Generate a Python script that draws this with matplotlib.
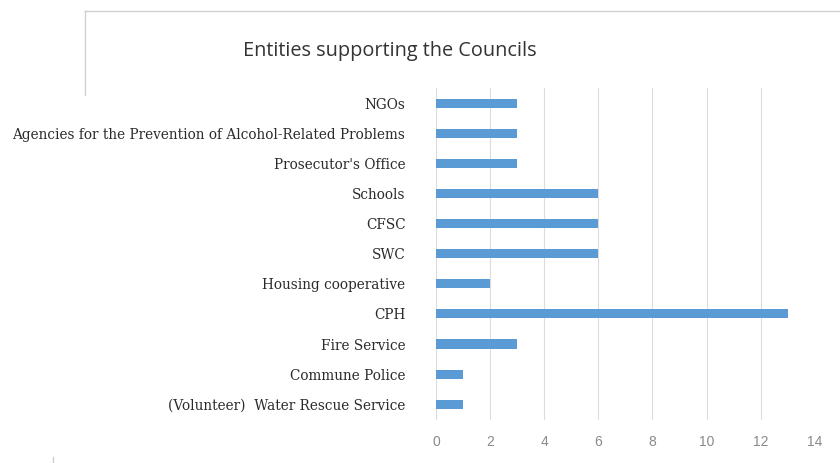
import matplotlib
matplotlib.use("Agg")
import matplotlib.pyplot as plt
from matplotlib.lines import Line2D

categories = ["NGOs",
              "Agencies for the Prevention of Alcohol-Related Problems",
              "Prosecutor's Office",
              "Schools",
              "CFSC",
              "SWC",
              "Housing cooperative",
              "CPH",
              "Fire Service",
              "Commune Police",
              "(Volunteer)  Water Rescue Service"]
values = [3, 3, 3, 6, 6, 6, 2, 13, 3, 1, 1]
xticks = [0, 2, 4, 6, 8, 10, 12, 14]

fig = plt.figure(figsize=(8.4, 4.63), dpi=100)
ax = fig.add_axes([0.519, 0.093, 0.451, 0.717])

ypos = list(range(len(categories)))[::-1]
ax.barh(ypos, values, height=0.3, color="#5B9BD5", zorder=3)
ax.set_xlim(0, 14)
ax.set_ylim(-0.53, 10.53)
ax.set_xticks(xticks)
ax.set_xticklabels([str(t) for t in xticks], family="Liberation Sans",
                   fontsize=10, color="#8a8a8a")
ax.set_yticks(ypos)
ax.set_yticklabels(categories, family="DejaVu Serif", fontsize=9.85, color="#2a2a2a")
ax.tick_params(axis="both", length=0)
ax.tick_params(axis="y", pad=22)
ax.tick_params(axis="x", pad=11)
ax.grid(axis="x", color="#dcdcdc", linewidth=0.8, zorder=0)
for s in ax.spines.values():
    s.set_visible(False)

fig.text(0.464, 0.89, "Entities supporting the Councils", ha="center", va="center",
         family="Open Sans", fontsize=14.3, color="#333333")

fig.add_artist(Line2D([0.101, 1.0], [0.976, 0.976], color="#d0d0d0", lw=1))
fig.add_artist(Line2D([0.101, 0.101], [0.976, 0.795], color="#d0d0d0", lw=1))
fig.add_artist(Line2D([0.063, 0.063], [0.0, 0.012], color="#d0d0d0", lw=1))

fig.savefig("out.png", dpi=100)
